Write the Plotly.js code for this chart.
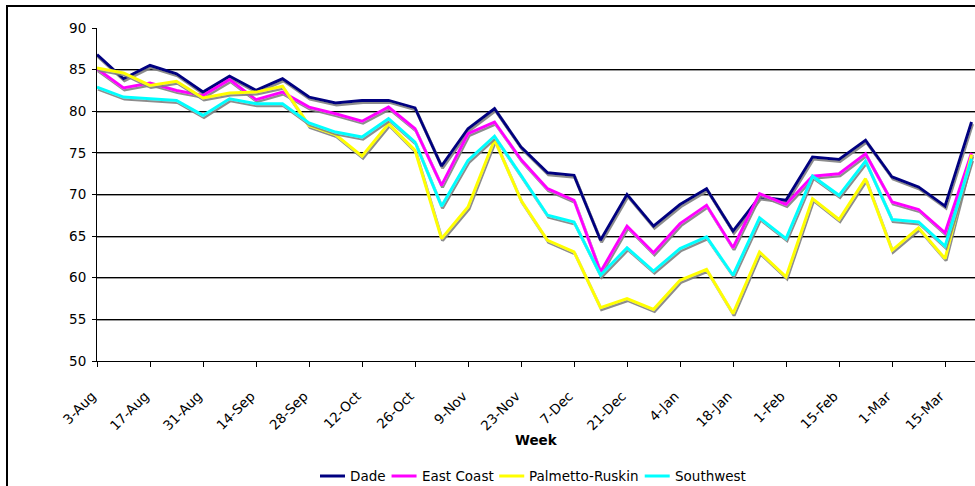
<!DOCTYPE html>
<html>
<head>
<meta charset="utf-8">
<script src="https://cdn.plot.ly/plotly-3.0.1.min.js"></script>
<style>
  html, body { margin: 0; padding: 0; background: #fff; }
  #wrap { position: relative; width: 975px; height: 486px; overflow: hidden; }
  #chart { position: absolute; left: 0; top: 0; width: 975px; height: 486px; }
  #frame { position: absolute; left: 6px; top: 5px; width: 1200px; height: 600px;
           border-left: 2px solid #000; border-top: 2px solid #000; pointer-events: none; }
  .js-plotly-plot .scatterlayer .trace .js-line { filter: url(#lineShadow); }
  .js-plotly-plot .gridlayer path { filter: url(#gridShadow); }
</style>
</head>
<body>
<svg width="0" height="0" style="position:absolute">
  <defs>
    <filter id="lineShadow" filterUnits="userSpaceOnUse" x="-100" y="-100" width="2000" height="1000">
      <feDropShadow dx="1" dy="2" stdDeviation="0.4" flood-color="#808080" flood-opacity="0.9"/>
    </filter>
    <filter id="gridShadow" filterUnits="userSpaceOnUse" x="-100" y="-100" width="2000" height="1000">
      <feDropShadow dx="0" dy="1" stdDeviation="0" flood-color="#9a9a9a" flood-opacity="1"/>
    </filter>
  </defs>
</svg>
<div id="wrap">
  <div id="chart"></div>
  <div id="frame"></div>
</div>
<script>
// Weekly survey dates
const weeks = ["3-Aug","10-Aug","17-Aug","24-Aug","31-Aug","7-Sep","14-Sep","21-Sep","28-Sep",
  "5-Oct","12-Oct","19-Oct","26-Oct","2-Nov","9-Nov","16-Nov","23-Nov","30-Nov","7-Dec",
  "14-Dec","21-Dec","28-Dec","4-Jan","11-Jan","18-Jan","25-Jan","1-Feb","8-Feb","15-Feb",
  "22-Feb","1-Mar","8-Mar","15-Mar","22-Mar"];

// Labelled ticks, every second week
const tickWeeks = ["3-Aug","17-Aug","31-Aug","14-Sep","28-Sep","12-Oct","26-Oct","9-Nov",
  "23-Nov","7-Dec","21-Dec","4-Jan","18-Jan","1-Feb","15-Feb","1-Mar","15-Mar"];

const dade = [86.8,83.9,85.5,84.5,82.3,84.2,82.5,83.9,81.7,81.0,81.3,81.3,80.4,73.4,77.9,80.3,
  75.7,72.6,72.3,64.5,70.0,66.2,68.8,70.7,65.6,69.7,69.3,74.5,74.2,76.5,72.1,70.9,68.6,78.7];
const eastCoast = [85.1,82.8,83.4,82.5,81.9,83.8,81.4,82.3,80.5,79.7,78.8,80.5,77.9,71.1,77.3,78.7,
  74.2,70.7,69.3,60.7,66.2,63.0,66.5,68.7,63.6,70.1,68.8,72.2,72.5,74.9,69.1,68.2,65.4,75.0];
const palmettoRuskin = [85.2,84.6,83.1,83.6,81.6,82.2,82.3,83.0,78.3,77.2,74.6,78.5,75.3,64.7,68.5,76.6,
  69.3,64.5,63.1,56.4,57.5,56.2,59.7,61.0,55.7,63.1,60.1,69.5,67.0,71.9,63.3,66.0,62.3,74.8];
const southwest = [82.9,81.7,81.5,81.3,79.5,81.5,80.9,80.9,78.6,77.5,76.9,79.1,76.3,68.6,74.1,77.0,
  72.3,67.5,66.7,60.3,63.6,60.8,63.5,64.9,60.3,67.2,64.7,72.2,69.9,74.0,67.0,66.7,63.8,74.3];

const seriesNames = ["Dade", "East Coast", "Palmetto-Ruskin", "Southwest"];
const seriesValues = [dade, eastCoast, palmettoRuskin, southwest];
const seriesColors = ["#000080", "#FF00FF", "#FFFF00", "#00FFFF"];

const FONT = "DejaVu Sans, Verdana, sans-serif";
const FS = 13.5;

// Plot-area geometry in pixels (fixed margins)
const W = 975, H = 486;
const M = { l: 97, r: 0, t: 28, b: 125 };
const plotW = W - M.l - M.r;
const plotH = H - M.t - M.b;
const toPaperX = px => (px - M.l) / plotW;
const toPaperY = py => (H - M.b - py) / plotH;

const traces = seriesNames.map((name, k) => ({
  type: "scatter",
  mode: "lines",
  name: name,
  x: weeks,
  y: seriesValues[k],
  line: { color: seriesColors[k], width: 3 },
  hoverinfo: "x+y+name"
}));

// Axis title, placed under the rotated week labels
const annotations = [{
  xref: "paper", yref: "paper",
  x: 0.5, y: toPaperY(440),
  xanchor: "center", yanchor: "middle",
  text: "<b>Week</b>", showarrow: false,
  font: { family: FONT, size: FS, color: "#000" }
}];

// Legend row: colour swatch followed by the series name
const measureCtx = document.createElement("canvas").getContext("2d");
measureCtx.font = FS + "px DejaVu Sans";
const shapes = [];
const legendY = 476;
let cursor = 320;
seriesNames.forEach((name, k) => {
  shapes.push({
    type: "line", xref: "paper", yref: "paper",
    x0: toPaperX(cursor), x1: toPaperX(cursor + 25),
    y0: toPaperY(legendY), y1: toPaperY(legendY),
    line: { color: seriesColors[k], width: 3 }
  });
  annotations.push({
    xref: "paper", yref: "paper",
    x: toPaperX(cursor + 28), y: toPaperY(legendY),
    xanchor: "left", yanchor: "middle",
    text: name, showarrow: false,
    font: { family: FONT, size: FS, color: "#000" }
  });
  cursor += 28 + measureCtx.measureText(name).width + 8;
});

const layout = {
  width: W,
  height: H,
  margin: M,
  paper_bgcolor: "rgba(0,0,0,0)",
  plot_bgcolor: "#ffffff",
  font: { family: FONT, size: FS, color: "#000" },
  showlegend: false,
  shapes: shapes,
  annotations: annotations,
  xaxis: {
    type: "category",
    categoryorder: "array",
    categoryarray: weeks,
    range: [0, 33.13],
    tickmode: "array",
    tickvals: tickWeeks,
    ticktext: tickWeeks,
    tickangle: -45,
    ticks: "outside",
    ticklen: 5,
    tickcolor: "#000",
    ticklabelstandoff: 16,
    ticklabelshift: -5,
    tickfont: { family: FONT, size: FS, color: "#000" },
    showgrid: false,
    showline: true,
    linecolor: "#000",
    linewidth: 1,
    zeroline: false
  },
  yaxis: {
    range: [50, 90],
    tickmode: "linear",
    tick0: 50,
    dtick: 5,
    ticks: "outside",
    ticklen: 4,
    tickcolor: "#000",
    ticklabelstandoff: 3,
    tickfont: { family: FONT, size: FS, color: "#000" },
    showgrid: true,
    gridcolor: "#000",
    gridwidth: 1,
    showline: true,
    linecolor: "#000",
    linewidth: 1,
    zeroline: false
  }
};

Plotly.newPlot("chart", traces, layout, { displayModeBar: false, staticPlot: true });
</script>
</body>
</html>
